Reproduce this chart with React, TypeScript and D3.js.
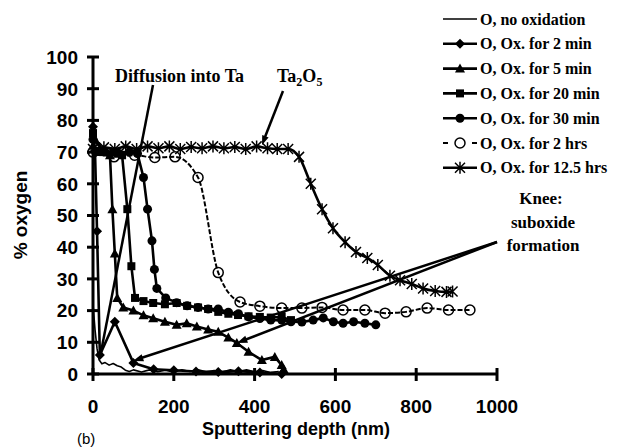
import React from "react";
import * as d3 from "d3";

type P = [number, number];

const seriesNames = [
  "O, no oxidation",
  "O, Ox. for 2 min",
  "O, Ox. for 5 min",
  "O, Ox. for 20 min",
  "O, Ox. for 30 min",
  "O, Ox. for 2 hrs",
  "O, Ox. for 12.5 hrs",
];

const noOx: P[] = [
  [0, 22], [5, 14], [10, 8], [15, 4.5], [22, 3.2], [30, 3.6], [40, 2.8], [50, 3.3], [60, 2.6], [70, 2.2],
  [80, 1.2], [90, 0.8], [100, 1.3], [120, 0.6], [140, 1.3], [160, 0.7], [180, 1.2], [200, 0.6], [220, 1.3],
  [240, 0.8], [260, 1.3], [280, 0.7], [300, 1.1], [320, 0.6], [340, 1.3], [360, 0.8], [380, 1.3], [400, 0.7],
  [420, 1.1], [440, 0.5], [460, 0.8],
];
const min2: P[] = [
  [0, 78], [5, 70], [10, 45], [17, 6], [54, 16.5], [100, 3.5], [150, 1.5], [200, 1.2], [255, 0.8],
  [310, 0.6], [360, 0.9], [413, 0.5], [467, 0],
];
const min5: P[] = [
  [0, 72], [20, 70], [42, 69], [48, 52], [54, 38], [60, 24], [75, 21], [100, 20], [125, 18.5], [149, 17.6],
  [178, 16.5], [207, 15.5], [232, 16], [257, 15], [285, 14], [310, 13.3], [335, 11.5], [356, 9.8], [385, 7],
  [418, 4.4], [450, 5.4], [467, 2.8], [472, 1.5],
];
const min20: P[] = [
  [0, 76], [25, 70], [50, 70], [72, 69], [85, 52], [95, 34], [104, 24], [125, 23], [149, 22.4], [178, 22],
  [207, 22.4], [233, 21.5], [260, 21], [285, 20.5], [310, 19.6], [335, 19], [359, 18.6], [385, 18.2],
  [413, 18], [440, 17.8], [467, 18], [490, 17],
];
const min30: P[] = [
  [0, 74], [30, 70], [60, 70], [90, 70], [110, 69.5], [125, 62], [135, 52], [146, 42], [152, 33], [158, 27],
  [180, 24], [207, 22.5], [233, 21.5], [260, 21], [285, 20.5], [310, 20.5], [335, 19.5], [360, 19], [385, 18],
  [413, 17.5], [440, 17], [467, 17], [490, 16.5], [517, 16.4], [545, 17], [570, 17.7], [595, 16.5], [619, 16],
  [645, 16.5], [673, 16], [700, 15.5],
];
const hr2: P[] = [
  [0, 70], [52, 68.5], [103, 69], [153, 68.3], [203, 68.5], [260, 62], [310, 32], [364, 22.7], [413, 21.4],
  [467, 20.8], [517, 20.8], [567, 21], [619, 20.2], [673, 20.2], [723, 19.2], [775, 19.6], [827, 20.8],
  [880, 20.2], [933, 20.2],
];
const hr12: P[] = [
  [0, 71], [27, 71.5], [54, 71], [81, 71.8], [108, 71], [135, 71.8], [162, 71.2], [189, 71.8], [216, 71],
  [243, 71.6], [270, 71.2], [297, 71.8], [324, 71.2], [351, 71.6], [378, 71], [405, 71.8], [432, 71.2],
  [456, 71], [483, 71], [510, 68.5], [539, 60], [567, 52], [594, 46], [624, 41.6], [651, 38.5], [679, 36.6],
  [705, 34.4], [735, 31], [760, 29.6], [789, 28.4], [817, 27], [847, 26.2], [875, 25.9], [890, 26],
];

const xTicks = [0, 200, 400, 600, 800, 1000];
const yTicks = [0, 10, 20, 30, 40, 50, 60, 70, 80, 90, 100];

const seriesData = [noOx, min2, min5, min20, min30, hr2, hr12];
const markerKinds = ["none", "diamond", "triangle", "square", "circle", "open", "star"];

const x = d3.scaleLinear().domain([0, 1000]).range([93, 497]);
const y = d3.scaleLinear().domain([0, 100]).range([374, 57]);

function Marker({ kind, cx, cy }: { kind: string; cx: number; cy: number }) {
  const t = `translate(${cx},${cy})`;
  switch (kind) {
    case "diamond":
      return <path transform={t} d="M0,-5L5,0L0,5L-5,0Z" fill="#000" />;
    case "triangle":
      return <path transform={t} d="M0,-5L5,4L-5,4Z" fill="#000" />;
    case "square":
      return <rect x={cx - 4} y={cy - 4} width={8} height={8} fill="#000" />;
    case "circle":
      return <circle cx={cx} cy={cy} r={4.5} fill="#000" />;
    case "open":
      return <circle cx={cx} cy={cy} r={5} fill="none" stroke="#000" strokeWidth={1.5} />;
    case "star":
      return (
        <path
          transform={t}
          d="M-5,-5L5,5M-5,5L5,-5M0,-6L0,6"
          stroke="#000"
          strokeWidth={1.5}
          fill="none"
        />
      );
    default:
      return null;
  }
}

const lineLinear = d3
  .line<P>()
  .x((d) => x(d[0]))
  .y((d) => y(d[1]));
const lineSmooth = d3
  .line<P>()
  .x((d) => x(d[0]))
  .y((d) => y(d[1]))
  .curve(d3.curveMonotoneX);

export default function App() {
  const legendX = 443;
  const legendY0 = 19;
  const legendDy = 24.8;
  const serif = "'Liberation Serif', 'Times New Roman', serif";
  const sans = "'Liberation Sans', Arial, sans-serif";

  const arrowHead = (x1: number, y1: number, x2: number, y2: number, size = 9) => {
    const a = Math.atan2(y2 - y1, x2 - x1);
    const p1 = [x2 - size * Math.cos(a - 0.35), y2 - size * Math.sin(a - 0.35)];
    const p2 = [x2 - size * Math.cos(a + 0.35), y2 - size * Math.sin(a + 0.35)];
    return `M${x2},${y2}L${p1[0]},${p1[1]}L${p2[0]},${p2[1]}Z`;
  };

  return (
    <svg
      width={620}
      height={448}
      style={{ position: "absolute", left: 0, top: 0, background: "#fff" }}
    >
      <rect width={620} height={448} fill="#fff" />
      {/* series lines */}
      {seriesData.map((data, i) => (
        <path
          key={"l" + i}
          d={(i >= 5 ? lineSmooth(data) : lineLinear(data)) || ""}
          fill="none"
          stroke="#000"
          strokeWidth={i === 0 ? 1.6 : i === 5 ? 2 : 2.6}
          strokeDasharray={i === 5 ? "5,2" : undefined}
          strokeLinejoin="round"
        />
      ))}
      {seriesData.map((data, i) =>
        data.map((d, j) => (
          <Marker key={`m${i}-${j}`} kind={markerKinds[i]} cx={x(d[0])} cy={y(d[1])} />
        ))
      )}

      {/* axes */}
      <line x1={x(0)} x2={x(0)} y1={y(0)} y2={y(100)} stroke="#000" strokeWidth={3} />
      <line x1={x(0)} x2={x(1000)} y1={y(0)} y2={y(0)} stroke="#000" strokeWidth={3} />
      {yTicks.map((t) => (
        <g key={"yt" + t}>
          <line x1={87} x2={99} y1={y(t)} y2={y(t)} stroke="#000" strokeWidth={3} />
          <text
            x={78}
            y={y(t)}
            dy="0.36em"
            textAnchor="end"
            fontFamily={sans}
            fontWeight="bold"
            fontSize={19}
          >
            {t}
          </text>
        </g>
      ))}
      {xTicks.map((t) => (
        <g key={"xt" + t}>
          <line x1={x(t)} x2={x(t)} y1={368} y2={381} stroke="#000" strokeWidth={3} />
          <text
            x={x(t)}
            y={413}
            textAnchor="middle"
            fontFamily={sans}
            fontWeight="bold"
            fontSize={19}
          >
            {t}
          </text>
        </g>
      ))}
      <text
        x={296}
        y={435}
        textAnchor="middle"
        fontFamily={sans}
        fontWeight="bold"
        fontSize={18}
      >
        Sputtering depth (nm)
      </text>
      <text
        transform="translate(27,215) rotate(-90)"
        textAnchor="middle"
        fontFamily={sans}
        fontWeight="bold"
        fontSize={19}
      >
        % oxygen
      </text>
      <text x={77} y={444} fontFamily={sans} fontSize={15}>
        (b)
      </text>

      {/* annotations */}
      <text x={115} y={82} fontFamily={serif} fontWeight="bold" fontSize={18}>
        Diffusion into Ta
      </text>
      <line x1={153} y1={85} x2={100} y2={357} stroke="#000" strokeWidth={2.5} />
      <text x={277} y={82} fontFamily={serif} fontWeight="bold" fontSize={18}>
        Ta<tspan fontSize={12} dy={4}>2</tspan>
        <tspan dy={-4}>O</tspan>
        <tspan fontSize={12} dy={4}>5</tspan>
      </text>
      <line x1={283} y1={91} x2={265} y2={137} stroke="#000" strokeWidth={2.5} />
      <path d={arrowHead(283, 91, 262, 145, 10)} fill="#000" />

      <text textAnchor="middle" fontFamily={serif} fontWeight="bold" fontSize={17}>
        <tspan x={541} y={204}>Knee:</tspan>
        <tspan x={543} y={228}>suboxide</tspan>
        <tspan x={543} y={251}>formation</tspan>
      </text>
      <line x1={497} y1={242} x2={138} y2={359} stroke="#000" strokeWidth={2.5} />
      <path d={arrowHead(497, 242, 133, 361, 11)} fill="#000" />
      <line x1={497} y1={242} x2={242} y2={341} stroke="#000" strokeWidth={2.5} />
      <path d={arrowHead(497, 242, 237, 343, 11)} fill="#000" />

      {/* legend */}
      {seriesNames.map((name, i) => {
        const ly = legendY0 + i * legendDy;
        return (
          <g key={"lg" + i}>
            {i === 5 ? (
              <>
                <line x1={legendX} x2={legendX + 5} y1={ly} y2={ly} stroke="#000" strokeWidth={2} />
                <line x1={legendX + 29} x2={legendX + 34} y1={ly} y2={ly} stroke="#000" strokeWidth={2} />
              </>
            ) : (
              <line
                x1={legendX}
                x2={legendX + 34}
                y1={ly}
                y2={ly}
                stroke="#000"
                strokeWidth={i === 0 ? 1.6 : 2.6}
              />
            )}
            <Marker kind={markerKinds[i]} cx={legendX + 17} cy={ly} />
            <text
              x={480}
              y={ly}
              dy="0.35em"
              fontFamily={serif}
              fontWeight="bold"
              fontSize={16}
            >
              {name}
            </text>
          </g>
        );
      })}
    </svg>
  );
}
